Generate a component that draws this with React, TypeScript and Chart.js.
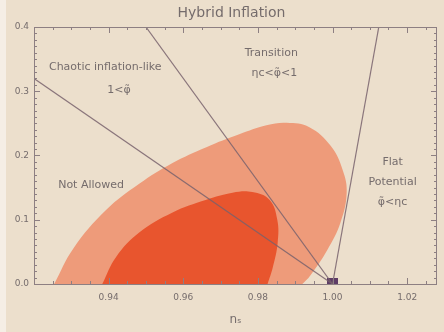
import React, { useEffect, useRef } from 'react';
import { Chart, registerables } from 'chart.js';

Chart.register(...registerables);

// ---- data ----
const xTickValues = [0.94, 0.96, 0.98, 1.0, 1.02];
const yTickValues = [0.0, 0.1, 0.2, 0.3, 0.4];

// 95% (outer) contour in (n_s, r)
const outerNs = [0.9254, 0.9305, 0.9393, 0.9482, 0.957, 0.9662, 0.975, 0.9823, 0.9877, 0.9938, 0.9995, 1.0027, 1.0038, 1.0021, 0.9986, 0.994, 0.9919];
const outerR = [0.0, 0.055, 0.115, 0.156, 0.188, 0.213, 0.233, 0.247, 0.251, 0.244, 0.215, 0.178, 0.142, 0.095, 0.053, 0.013, 0.0];

// 68% (inner) contour
const innerNs = [0.9383, 0.942, 0.9482, 0.957, 0.9662, 0.9732, 0.9785, 0.9831, 0.9852, 0.9853, 0.984, 0.9826];
const innerR = [0.0, 0.042, 0.08, 0.111, 0.131, 0.142, 0.143, 0.131, 0.1, 0.064, 0.026, 0.0];

// boundary lines
const chaoticLineNs = [0.92, 1.0];
const chaoticLineR = [0.32, 0.0];
const transitionLineNs = [0.95, 1.0];
const transitionLineR = [0.4, 0.0];
const flatLineNs = [1.0, 1.0124];
const flatLineR = [0.0, 0.4];

// marker
const markerNs = [1.0];
const markerR = [0.004];

// region labels
const labelTexts = ['Chaotic inflation-like', '1<φ̃', 'Transition', 'ηc<φ̃<1', 'Not Allowed', 'Flat', 'Potential', 'φ̃<ηc'];
const labelNs = [0.9391, 0.9428, 0.9836, 0.9844, 0.9353, 1.0161, 1.0161, 1.0161];
const labelR = [0.338, 0.302, 0.36, 0.328, 0.154, 0.19, 0.159, 0.128];

const titleText = 'Hybrid Inflation';
const xTitle = 'nₛ';

// ---- styles ----
const BG = '#ecdfcc';
const OUTER = '#ee9b7a';
const INNER = '#e8552e';
const LINE = 'rgba(120,98,108,0.85)';
const AXIS = '#8d7f82';
const TEXT = '#756c6c';
const FONT = "'DejaVu Sans', 'Liberation Sans', sans-serif";

const pts = (xs: number[], ys: number[]) => xs.map((x, i) => ({ x, y: ys[i] }));

function makeMarker() {
  const c = document.createElement('canvas');
  c.width = 11;
  c.height = 7;
  const g = c.getContext('2d')!;
  g.fillStyle = '#5e3c66';
  g.fillRect(0, 0, 11, 7);
  return c;
}

const decorPlugin = {
  id: 'decor',
  beforeDraw(chart: any) {
    const { ctx, width, height } = chart;
    ctx.save();
    ctx.fillStyle = BG;
    ctx.fillRect(0, 0, width, height);
    ctx.restore();
  },
  afterDatasetsDraw(chart: any) {
    const { ctx, chartArea: a, scales } = chart;
    const xs = scales.x;
    const ys = scales.y;
    ctx.save();
    // frame
    ctx.strokeStyle = AXIS;
    ctx.lineWidth = 1;
    ctx.strokeRect(Math.round(a.left) + 0.5, Math.round(a.top) + 0.5, Math.round(a.right - a.left) - 1, Math.round(a.bottom - a.top));
    // ticks (inward)
    ctx.beginPath();
    for (let v = 0; v <= 0.4001; v += 0.01) {
      const py = Math.round(ys.getPixelForValue(v)) + 0.5;
      const major = Math.abs(v * 10 - Math.round(v * 10)) < 1e-6;
      const len = major ? 6 : 3;
      ctx.moveTo(a.left, py);
      ctx.lineTo(a.left + len, py);
      ctx.moveTo(a.right, py);
      ctx.lineTo(a.right - len, py);
    }
    for (let v = 0.92; v <= 1.0301; v += 0.005) {
      const px = Math.round(xs.getPixelForValue(v)) + 0.5;
      if (px < a.left || px > a.right) continue;
      const major = Math.abs(v * 50 - Math.round(v * 50)) < 1e-6;
      const len = major ? 6 : 3;
      ctx.moveTo(px, a.bottom);
      ctx.lineTo(px, a.bottom - len);
      ctx.moveTo(px, a.top);
      ctx.lineTo(px, a.top + len);
    }
    ctx.stroke();

    // region labels
    ctx.fillStyle = TEXT;
    ctx.font = `11px ${FONT}`;
    ctx.textAlign = 'center';
    ctx.textBaseline = 'middle';
    labelTexts.forEach((t, i) => {
      ctx.fillText(t, xs.getPixelForValue(labelNs[i]), ys.getPixelForValue(labelR[i]));
    });
    // title
    ctx.font = `14px ${FONT}`;
    ctx.fillText(titleText, (a.left + a.right) / 2 - 4, 13);
    ctx.restore();
  },
};

export default function App() {
  const ref = useRef<HTMLCanvasElement>(null);
  useEffect(() => {
    const lineDs = (xs: number[], ys: number[]) => ({
      data: pts(xs, ys),
      showLine: true,
      borderColor: LINE,
      borderWidth: 1.2,
      pointRadius: 0,
      fill: false,
    });
    const chart = new Chart(ref.current!, {
      type: 'scatter',
      data: {
        datasets: [
          lineDs(chaoticLineNs, chaoticLineR),
          lineDs(transitionLineNs, transitionLineR),
          lineDs(flatLineNs, flatLineR),
          {
            data: pts(markerNs, markerR),
            pointStyle: makeMarker(),
            pointRadius: 5,
            showLine: false,
          },
          {
            data: pts(innerNs, innerR),
            showLine: true,
            borderWidth: 0,
            borderColor: 'transparent',
            backgroundColor: INNER,
            pointRadius: 0,
            tension: 0.4,
            fill: 'shape',
          },
          {
            data: pts(outerNs, outerR),
            showLine: true,
            borderWidth: 0,
            borderColor: 'transparent',
            backgroundColor: OUTER,
            pointRadius: 0,
            tension: 0.4,
            fill: 'shape',
          },
        ] as any,
      },
      options: {
        animation: false,
        responsive: false,
        layout: { padding: { top: 27, right: 7, left: 0, bottom: 0 } },
        plugins: { legend: { display: false }, tooltip: { enabled: false }, title: { display: false } },
        scales: {
          x: {
            type: 'linear',
            min: 0.92,
            max: 1.028,
            grid: { display: false, drawTicks: false },
            border: { display: false },
            afterBuildTicks: (s: any) => {
              s.ticks = xTickValues.map((v) => ({ value: v }));
            },
            afterFit: (s: any) => {
              s.height = 48;
            },
            ticks: {
              color: TEXT,
              font: { size: 9, family: FONT },
              padding: 8,
              maxRotation: 0,
              callback: (v: any) => Number(v).toFixed(2),
            },
            title: { display: true, text: xTitle, color: TEXT, font: { size: 12, family: FONT }, padding: { top: 0, bottom: 5 } },
          },
          y: {
            type: 'linear',
            min: 0,
            max: 0.4,
            grid: { display: false, drawTicks: false },
            border: { display: false },
            afterBuildTicks: (s: any) => {
              s.ticks = yTickValues.map((v) => ({ value: v }));
            },
            afterFit: (s: any) => {
              s.width = 34;
            },
            ticks: {
              color: TEXT,
              font: { size: 9, family: FONT },
              padding: 5,
              callback: (v: any) => Number(v).toFixed(1),
            },
          },
        },
      } as any,
      plugins: [decorPlugin],
    });
    return () => chart.destroy();
  }, []);

  return (
    <div style={{ position: 'fixed', left: 0, top: 0, width: 444, height: 332, background: BG }}>
      <canvas ref={ref} width={444} height={332} style={{ display: 'block' }} />
      <div style={{ position: 'absolute', left: 0, top: 0, width: 6, height: 332, background: '#f5eee5' }} />
    </div>
  );
}
